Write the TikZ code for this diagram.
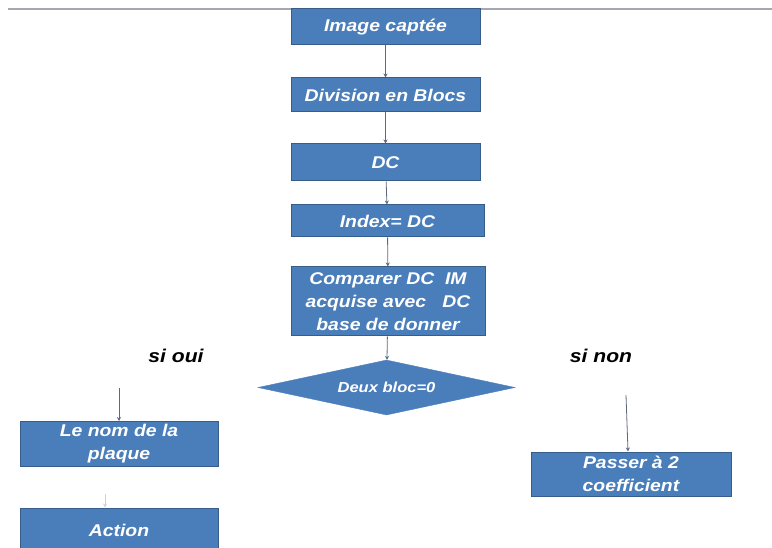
\documentclass[tikz,border=0pt]{standalone}
\usepackage{fontspec}
\setmainfont{Liberation Sans}
\newfontfamily\wideface[FakeStretch=1.14]{Liberation Sans}
\usetikzlibrary{shapes.geometric,arrows.meta}

\definecolor{boxblue}{RGB}{74,126,187}
\definecolor{boxedge}{RGB}{56,93,138}
\definecolor{linkgray}{RGB}{95,105,125}
\definecolor{rulegray}{RGB}{165,168,178}

\tikzset{
  stepbox/.style={draw=boxedge, fill=boxblue, line width=1pt, inner sep=0pt,
    text=white, align=center, font=\wideface\fontsize{17}{23}\selectfont\bfseries\itshape},
  testbox/.style={diamond, draw=boxblue, fill=boxblue, inner sep=0pt,
    shape aspect=4.6, minimum width=257pt, minimum height=55pt,
    text=white, font=\wideface\fontsize{14.5}{16}\selectfont\bfseries\itshape},
  branch/.style={text=black, font=\wideface\fontsize{18.5}{20}\selectfont\bfseries\itshape},
  link/.style={draw=linkgray, line width=0.8pt, -{Stealth[length=4pt,width=4pt]}}
}

\begin{document}
\begin{tikzpicture}[x=1pt,y=-1pt]
\useasboundingbox (0,0) rectangle (772,548);

% filet du haut
\draw[rulegray, line width=1.5pt] (8,9) -- (772,9);

% chaine principale
\node[stepbox, minimum width=189pt, minimum height=36pt] (img) at (385.5,27) {Image captée};
\node[stepbox, minimum width=189pt, minimum height=34pt] (div) at (385.5,95) {Division en Blocs};
\node[stepbox, minimum width=189pt, minimum height=37pt] (dc) at (385.5,162.5) {DC};
\node[stepbox, minimum width=193pt, minimum height=32pt] (idx) at (387.5,221) {Index= DC};
\node[stepbox, minimum width=194pt, minimum height=69pt] (cmp) at (388,301.5)
  {Comparer DC\ \ IM\\acquise avec\ \ \ DC\\base de donner};
\node[testbox] (test) at (386.5,387.5) {Deux bloc=0};

\draw[link] (img) -- (div);
\draw[link] (div) -- (dc);
\draw[link] (dc) -- (idx);
\draw[link] (idx) -- (cmp);
\draw[link] (cmp) -- (test);

% branches
\node[branch] (oui) at (176,356) {si oui};
\node[branch] (non) at (601,356) {si non};

\node[stepbox, minimum width=198pt, minimum height=45pt] (nom) at (119,444) {Le nom de la\\plaque};
\node[stepbox, minimum width=198pt, minimum height=44pt] (act) at (119,530) {Action};
\node[stepbox, minimum width=200pt, minimum height=44pt] (pas) at (631,474) {Passer à 2\\coefficient};

\coordinate (ouiA) at (119,388);
\coordinate (nonA) at (626,395);
\coordinate (actA) at (105,494);

\draw[link] (ouiA) -- (nom.north);
\draw[link] (nonA) -- (pas.north -| 628,0);
\draw[link, draw=linkgray!30] (actA) -- (act.north -| actA);
\end{tikzpicture}
\end{document}
